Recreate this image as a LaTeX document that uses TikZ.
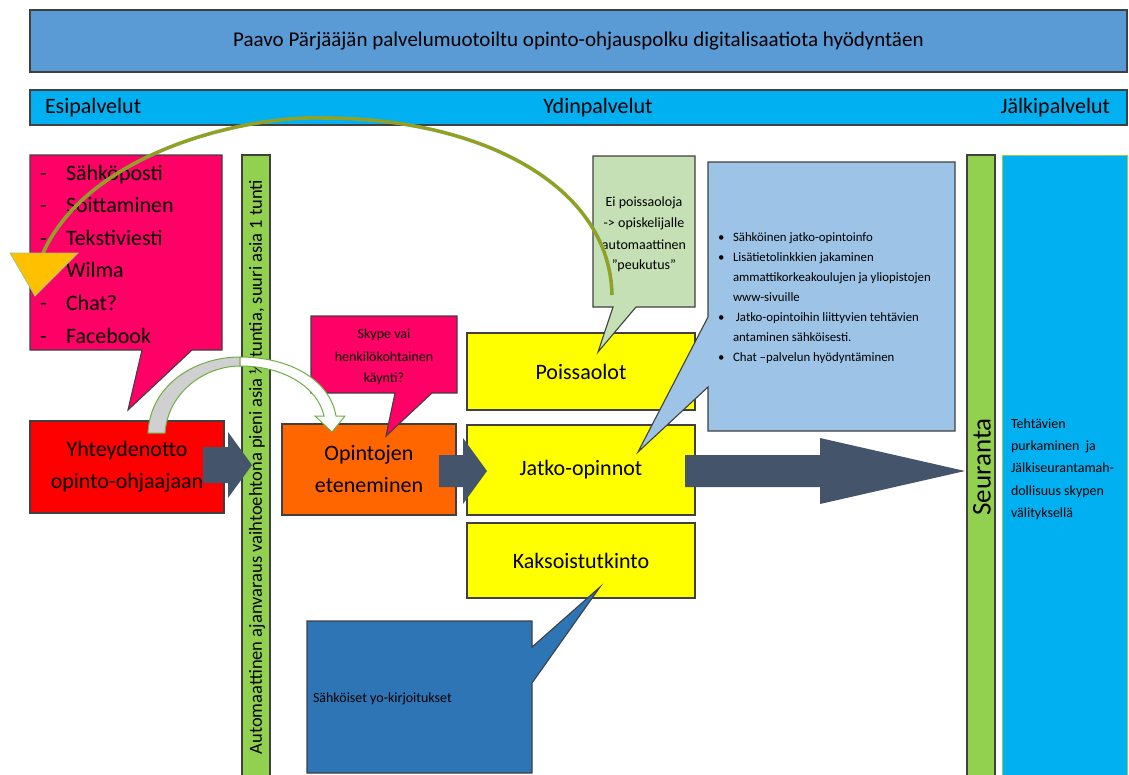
\documentclass[tikz,border=0pt]{standalone}
\usepackage{fontspec}
\setmainfont{Carlito}
\usetikzlibrary{calc}
\definecolor{titleblue}{HTML}{5B9BD5}
\definecolor{cyanbar}{HTML}{00B0F0}
\definecolor{hotpink}{HTML}{FF0066}
\definecolor{limegreen}{HTML}{92D050}
\definecolor{boxred}{HTML}{FF0000}
\definecolor{boxorange}{HTML}{FF6600}
\definecolor{boxyellow}{HTML}{FFFF00}
\definecolor{palegreen}{HTML}{C5E0B4}
\definecolor{paleblue}{HTML}{9DC3E6}
\definecolor{midblue}{HTML}{2E75B6}
\definecolor{arrowslate}{HTML}{44546A}
\definecolor{curvegreen}{HTML}{70AD47}
\definecolor{curvegold}{HTML}{BF9000}
\definecolor{headgold}{HTML}{FFC000}
\definecolor{edgegray}{HTML}{404040}
\definecolor{shaftgray}{HTML}{D0D0D0}
\begin{document}
\begin{tikzpicture}[x=1pt,y=-1pt,
  every node/.style={inner sep=0pt,outer sep=0pt},
  box/.style={draw=edgegray,line width=1.1pt,anchor=north west,align=center},
  frame/.style={anchor=north west},
  callout/.style={draw=edgegray,line width=1.1pt,line join=miter},
  slate/.style={fill=arrowslate},
  bigtxt/.style={font=\fontsize{22}{32}\selectfont},
  midtxt/.style={font=\fontsize{14}{21}\selectfont},
  smalltxt/.style={font=\fontsize{12.8}{20}\selectfont},
  hdrtxt/.style={font=\fontsize{22}{26}\selectfont}]
\useasboundingbox (0,0) rectangle (1129,774);

% header bars
\node[box,fill=titleblue,minimum width=1097,minimum height=62,font=\fontsize{21}{25}\selectfont] (title) at (30,10) {Paavo Pärjääjän palvelumuotoiltu opinto-ohjauspolku digitalisaatiota hyödyntäen};
\node[box,fill=cyanbar,minimum width=1097,minimum height=35] (phases) at (30,90) {};
\node[hdrtxt,anchor=west] (esi) at (45,108) {Esipalvelut};
\node[hdrtxt] (ydin) at (598,108) {Ydinpalvelut};
\node[hdrtxt,anchor=east] (jalki) at (1110,108) {Jälkipalvelut};

% vertical bars
\node[box,fill=limegreen,minimum width=28,minimum height=625] (ajan) at (242,155) {};
\node[rotate=90,font=\fontsize{18.5}{18.5}\selectfont] (ajant) at (257,467) {Automaattinen ajanvaraus vaihtoehtona pieni asia ½ tuntia, suuri asia 1 tunti};
\node[box,fill=limegreen,minimum width=28,minimum height=625] (seur) at (967,155) {};
\node[rotate=90,font=\fontsize{27}{27}\selectfont] (seurt) at (982,467) {Seuranta};
\node[box,draw=limegreen,line width=0.8pt,fill=cyanbar,minimum width=125,minimum height=625] (jalkibar) at (1002,155) {};
\node[midtxt,anchor=base west] (j1) at (1011,428) {Tehtävien};
\node[midtxt,anchor=base west] (j2) at (1011,450) {purkaminen\ \ ja};
\node[midtxt,anchor=base west] (j3) at (1011,472) {Jälkiseurantamah-};
\node[midtxt,anchor=base west] (j4) at (1011,495) {dollisuus skypen};
\node[midtxt,anchor=base west] (j5) at (1011,517) {välityksellä};

% main boxes
\node[box,fill=boxred,bigtxt,minimum width=194,minimum height=92] (yht) at (30,421) {Yhteydenotto\\opinto-ohjaajaan};
\node[box,fill=boxorange,bigtxt,minimum width=174,minimum height=91] (opi) at (282,424) {Opintojen\\eteneminen};
\node[box,fill=boxyellow,bigtxt,minimum width=228,minimum height=77] (poi) at (467,333) {Poissaolot};
\node[box,fill=boxyellow,bigtxt,minimum width=228,minimum height=90] (jat) at (467,425) {Jatko-opinnot};
\node[box,fill=boxyellow,bigtxt,minimum width=228,minimum height=75] (kak) at (467,523) {Kaksoistutkinto};

% callout: contact channels
\node[frame,minimum width=192,minimum height=195] (media) at (30,155) {};
\coordinate (mediatip) at (128,410);
\filldraw[callout,fill=hotpink] (media.north west) -- (media.north east) -- (media.south east)
  -- ($(media.south west)+(162,0)$) -- (mediatip) -- ($(media.south west)+(112,0)$) -- (media.south west) -- cycle;
\foreach \t [count=\i from 0] in {Sähköposti,Soittaminen,Tekstiviesti,Wilma,Chat?,Facebook}{
  \node[font=\fontsize{22}{26}\selectfont,anchor=base west] (md\i) at (40,180+32.6*\i) {-};
  \node[font=\fontsize{22}{26}\selectfont,anchor=base west] (mt\i) at (66,180+32.6*\i) {\t};
}

% callout: skype
\node[frame,minimum width=146,minimum height=77] (sky) at (311,316) {};
\coordinate (skytip) at (386,436);
\filldraw[callout,fill=hotpink] (sky.north west) -- (sky.north east) -- (sky.south east)
  -- ($(sky.south west)+(121,0)$) -- (skytip) -- ($(sky.south west)+(84,0)$) -- (sky.south west) -- cycle;
\node[midtxt,anchor=base] (sk1) at (384,338) {Skype vai};
\node[midtxt,anchor=base] (sk2) at (384,361) {henkilökohtainen};
\node[midtxt,anchor=base] (sk3) at (384,382) {käynti?};

% callout: absences
\node[frame,minimum width=102,minimum height=151] (abs) at (593,156) {};
\coordinate (abstip) at (598,352);
\filldraw[callout,fill=palegreen] (abs.north west) -- (abs.north east) -- (abs.south east)
  -- ($(abs.south west)+(43,0)$) -- (abstip) -- ($(abs.south west)+(20,0)$) -- (abs.south west) -- cycle;
\node[midtxt,anchor=base] (ab1) at (644,206) {Ei poissaoloja};
\node[midtxt,anchor=base] (ab2) at (644,227) {-> opiskelijalle};
\node[midtxt,anchor=base] (ab3) at (644,249) {automaattinen};
\node[midtxt,anchor=base] (ab4) at (644,269) {”peukutus”};

% callout: further studies
\node[frame,minimum width=247,minimum height=269] (info) at (708,162) {};
\coordinate (infotip) at (638,452);
\filldraw[callout,fill=paleblue] (info.north west) -- (info.north east) -- (info.south east) -- (info.south west)
  -- ($(info.north west)+(0,225)$) -- (infotip) -- ($(info.north west)+(0,155)$) -- cycle;
\foreach \y/\b/\t in {241/1/Sähköinen jatko-opintoinfo,261/1/Lisätietolinkkien jakaminen,281/0/ammattikorkeakoulujen ja yliopistojen,301/0/www-sivuille,321/1/\ Jatko-opintoihin liittyvien tehtävien,341/0/antaminen sähköisesti.,361/1/Chat –palvelun hyödyntäminen}{
  \ifnum\b=1 \node[smalltxt,anchor=base west] (ib\y) at (718,\y) {•};\fi
  \node[smalltxt,anchor=base west] (it\y) at (733,\y) {\t};
}

% callout: electronic exams
\node[frame,minimum width=225,minimum height=152] (yo) at (307,621) {};
\coordinate (yotip) at (600,587);
\filldraw[callout,fill=midblue] (yo.north west) -- (yo.north east) -- ($(yo.north east)+(0,26)$) -- (yotip)
  -- ($(yo.north east)+(0,62)$) -- (yo.south east) -- (yo.south west) -- cycle;
\node[midtxt,anchor=base west] (yot) at (313,702) {Sähköiset yo-kirjoitukset};

% block arrows
\coordinate (a1) at (203,465);
\fill[slate] (a1) ++(0,-18) -- ++(25,0) -- ++(0,-15) -- ++(24,33) -- ++(-24,33) -- ++(0,-15) -- ++(-25,0) -- cycle;
\coordinate (a2) at (439,471);
\fill[slate] (a2) ++(0,-16) -- ++(24,0) -- ++(0,-17) -- ++(24,33) -- ++(-24,33) -- ++(0,-17) -- ++(-24,0) -- cycle;
\coordinate (a3) at (685,471);
\fill[slate] (a3) ++(0,-16) -- ++(135,0) -- ++(0,-17) -- ++(145,33) -- ++(-145,33) -- ++(0,-17) -- ++(-135,0) -- cycle;

% curved arrow from contact to studies
\filldraw[fill=shaftgray,draw=curvegreen,line width=1pt] (148,433) .. controls (150,385) and (195,357) .. (240,357)
  -- (240,366) .. controls (205,366) and (168,392) .. (165,433) -- cycle;
\filldraw[fill=white,draw=curvegreen,line width=1pt] (240,357) .. controls (290,357) and (330,380) .. (336,416)
  -- (345,416) -- (332,432) -- (315,416) -- (324,416) .. controls (318,388) and (285,366) .. (240,366) -- cycle;

% big curved arrow back to channels
\coordinate (cstart) at (612,295);
\coordinate (cpeak) at (324,118);
\coordinate (cend) at (43,253);
\draw[curvegreen,line width=3.6pt] (cstart) .. controls (610,185) and (480,118) .. (cpeak) .. controls (250,115) and (90,150) .. (cend);
\draw[curvegold,line width=1.3pt] (cstart) .. controls (610,185) and (480,118) .. (cpeak) .. controls (250,115) and (90,150) .. (cend);
\filldraw[fill=headgold,draw=curvegreen!70,line width=0.8pt] (10,253) -- (78,253) -- (35,296) -- cycle;
\end{tikzpicture}
\end{document}
